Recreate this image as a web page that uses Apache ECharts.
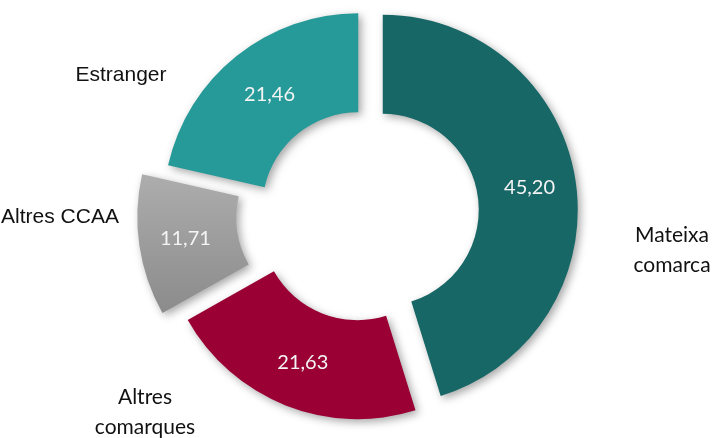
<!DOCTYPE html>
<html lang="ca">
<head>
    <meta charset="UTF-8">
    <title>Procedència</title>
    <style>
        html, body { margin: 0; padding: 0; background: #fff; }
        .box { width: 719px; height: 438px; }
    </style>
</head>
<body>
    <div class="box" id="box"></div>
    <script src="https://cdn.jsdelivr.net/npm/echarts/dist/echarts.min.js"></script>
    <script>
        // dades
        var categories = ['Mateixa\ncomarca', 'Altres\ncomarques', 'Altres CCAA', 'Estranger'];
        var values = [45.20, 21.63, 11.71, 21.46];

        // estil de cada porció
        var palette = [
            '#176766',
            '#9a0033',
            new echarts.graphic.LinearGradient(0, 0, 0, 1, [
                { offset: 0, color: '#adadad' },
                { offset: 1, color: '#8b8b8b' }
            ]),
            '#259a98'
        ];
        var explode = [21, 12, 30, 6];          // separació de cada porció
        var valueShift = [[0, 0], [0, 0], [0, 0], [4, 2]];
        var nameShift = [[310, 37], [-217, 199], [-302, 4], [-241, -138]];
        var nameFont = ['Lato', 'Lato', 'Liberation Sans', 'Liberation Sans'];

        var myChart = echarts.init(document.getElementById('box'));

        function fmt(v) {
            return v.toFixed(2).replace('.', ',');
        }

        // una sèrie per porció, així cada una té la seva separació
        function sliceSeries(k) {
            return {
                type: 'pie',
                center: [362, 213],
                radius: [96, 195],
                startAngle: 90,
                selectedMode: 'multiple',
                selectedOffset: explode[k],
                avoidLabelOverlap: false,
                silent: true,
                labelLine: { show: false },
                labelLayout: { dx: valueShift[k][0], dy: valueShift[k][1] },
                data: values.map(function (v, i) {
                    var on = i === k;
                    return {
                        name: categories[i],
                        value: v,
                        selected: on,
                        itemStyle: on ? {
                            color: palette[i],
                            shadowBlur: 8,
                            shadowColor: 'rgba(0,0,0,0.35)',
                            shadowOffsetX: 3,
                            shadowOffsetY: 3
                        } : { color: 'rgba(0,0,0,0)' },
                        label: on ? {
                            show: true,
                            position: 'inside',
                            formatter: function (p) { return fmt(p.value); },
                            color: '#f4f4f4',
                            fontFamily: 'Lato',
                            fontSize: 20
                        } : { show: false }
                    };
                })
            };
        }

        var series = values.map(function (v, k) { return sliceSeries(k); });

        // noms de les categories
        series.push({
            type: 'pie',
            center: [362, 213],
            radius: [96, 195],
            startAngle: 90,
            silent: true,
            avoidLabelOverlap: false,
            labelLine: { show: false },
            itemStyle: { color: 'rgba(0,0,0,0)' },
            label: {
                show: true,
                position: 'center',
                formatter: '{b}',
                color: '#111',
                fontSize: 21,
                lineHeight: 30
            },
            labelLayout: function (p) {
                return { dx: nameShift[p.dataIndex][0], dy: nameShift[p.dataIndex][1] };
            },
            data: values.map(function (v, i) {
                return {
                    name: categories[i],
                    value: v,
                    label: { fontFamily: nameFont[i] }
                };
            })
        });

        var option = {
            animation: false,
            backgroundColor: '#fff',
            series: series
        };

        myChart.setOption(option);

        window.addEventListener('resize', function () {
            myChart.resize();
        });
    </script>
</body>
</html>
